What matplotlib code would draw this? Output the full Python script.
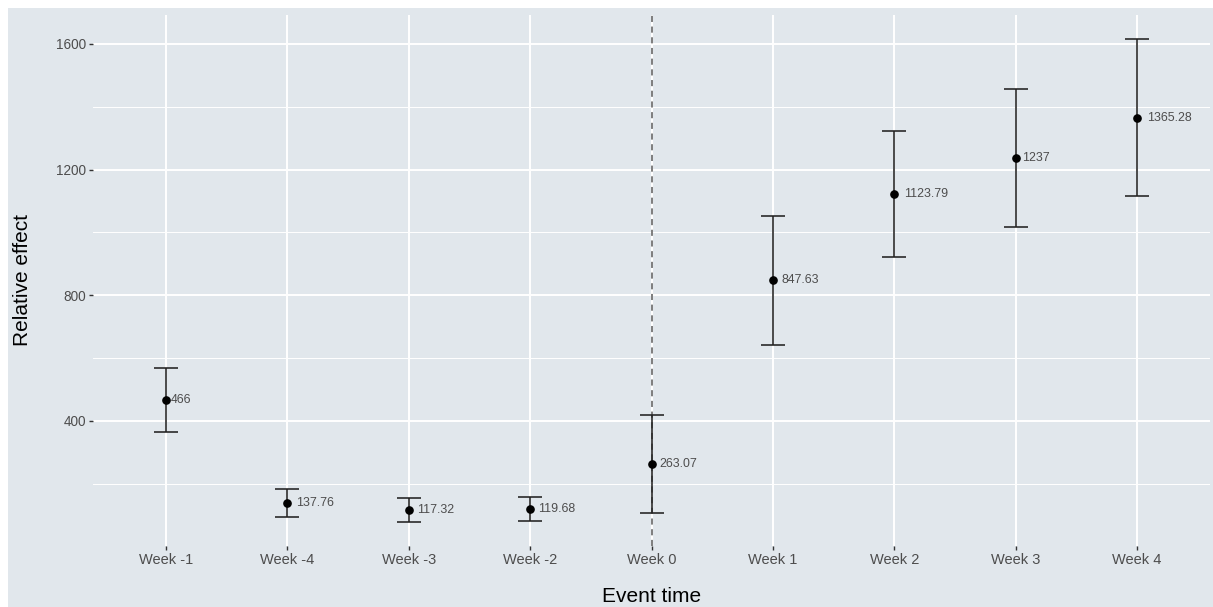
import matplotlib
matplotlib.use("Agg")
import matplotlib.pyplot as plt
from matplotlib.patches import Rectangle
from matplotlib.transforms import offset_copy

weeks = ["Week -1", "Week -4", "Week -3", "Week -2", "Week 0", "Week 1", "Week 2", "Week 3", "Week 4"]
effect = [466, 137.76, 117.32, 119.68, 263.07, 847.63, 1123.79, 1237, 1365.28]
lower = [364, 93, 79, 83, 107, 643, 923, 1018, 1115]
upper = [569, 182, 156, 158, 419, 1052, 1324, 1455, 1615]
event_week = "Week 0"

plt.rcParams["font.family"] = ["Liberation Sans", "DejaVu Sans"]

bg = "#E1E7EC"
W, H = 1213, 607
fig = plt.figure(figsize=(W / 100, H / 100), dpi=100, facecolor="white")
fig.patches.append(Rectangle((8 / W, 0), 1 - 8 / W, 1 - 8 / H, transform=fig.transFigure,
                             facecolor=bg, edgecolor="none", zorder=-10))

ax = fig.add_axes([93 / W, (H - 546) / H, (1210 - 93) / W, (546 - 15) / H])
ax.set_facecolor(bg)
for s in ax.spines.values():
    s.set_visible(False)

xs = list(range(1, len(weeks) + 1))
yerr = [[e - lo for e, lo in zip(effect, lower)], [hi - e for e, hi in zip(effect, upper)]]

ax.axvline(xs[weeks.index(event_week)], color="#5A5A5A", linestyle=(0, (4, 3)), linewidth=1.1, zorder=2)
ax.errorbar(xs, effect, yerr=yerr, fmt="o", color="black", ecolor="#222222",
            elinewidth=1.15, capsize=8.6, capthick=1.15, markersize=5.2, zorder=3)

texts = []
for x, v in zip(xs, effect):
    t = ax.text(x, v, f"{round(v, 2):g}", ha="left", va="center", fontsize=8.9,
                color="#4D4D4D", zorder=4)
    texts.append(t)

# y range like ggplot: 5% expansion around the error bars
lo, hi = min(lower), max(upper)
pad = (hi - lo) * 0.05
ax.set_ylim(lo - pad, hi + pad)
ax.set_xlim(0.4, len(weeks) + 0.6)

ax.set_xticks(xs)
ax.set_xticklabels(weeks)
ax.set_yticks([400, 800, 1200, 1600])
ax.set_yticks([200, 600, 1000, 1400], minor=True)
ax.grid(True, which="major", color="white", linewidth=1.4)
ax.grid(True, which="minor", axis="y", color="white", linewidth=0.7)
ax.set_axisbelow(True)
ax.tick_params(axis="both", which="major", length=3, width=1, color="#333333",
               labelcolor="#4D4D4D", pad=2)
ax.tick_params(axis="x", labelsize=10.5)
ax.tick_params(axis="y", labelsize=9.8)
ax.tick_params(which="minor", length=0)

ax.set_xlabel("Event time", fontsize=15, color="black")
ax.set_ylabel("Relative effect", fontsize=15, color="black")
ax.xaxis.label.set_va("center")
ax.yaxis.label.set_va("center")
ax.xaxis.set_label_coords(0.5, -(596 - 546) / (546 - 15))
ax.yaxis.set_label_coords(-(93 - 23) / (1210 - 93), 0.5)

# shift each value label right by a fraction of its own width (hjust = -0.2)
fig.canvas.draw()
renderer = fig.canvas.get_renderer()
for t in texts:
    w = t.get_window_extent(renderer).width
    t.set_transform(offset_copy(ax.transData, fig=fig, x=0.22 * w, units="dots"))

fig.savefig("out.png", dpi=100, facecolor="white")
